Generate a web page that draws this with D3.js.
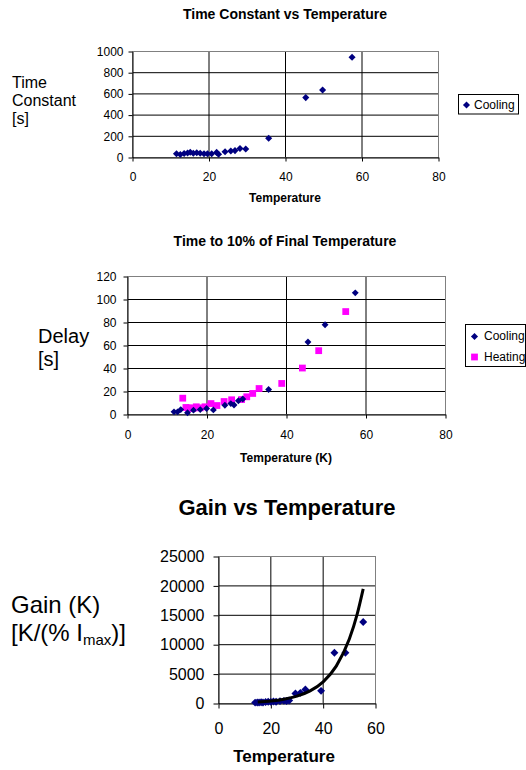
<!DOCTYPE html>
<html>
<head>
<meta charset="utf-8">
<script src="https://cdn.jsdelivr.net/npm/d3@7"></script>
<style>
  body { margin: 0; background: #fff; }
  svg { display: block; font-family: Arial, "Liberation Sans", sans-serif; }
</style>
</head>
<body>
<svg id="chart" width="526" height="770"></svg>
<script>
// chart 1 : time constant (cooling)
var tcTemp = [11.5, 12.5, 13.5, 14.4, 15.1, 15.9, 16.8, 17.7, 18.7, 19.6, 20.7, 22, 22.5, 24.2, 25.7, 26.8, 28.1, 29.6, 35.6, 45.3, 49.7, 57.4];
var tcCool = [35, 28, 38, 42, 50, 40, 45, 40, 35, 36, 35, 48, 30, 55, 62, 65, 85, 80, 182, 565, 637, 945];
var tcXTicks = [0, 20, 40, 60, 80];
var tcYTicks = [0, 200, 400, 600, 800, 1000];

// chart 2 : delay to 10% of final temperature
var dlCoolTemp = [11.7, 12.6, 13.4, 15.1, 16.6, 18.3, 19.9, 21.6, 24.5, 26, 26.8, 27.9, 29, 35.5, 45.4, 49.7, 57.3];
var dlCool = [2.3, 2.3, 4.3, 1.5, 3.8, 4.3, 5.2, 4, 8, 9.5, 8.3, 12, 13.5, 21.7, 63, 78, 105.8];
var dlHeatTemp = [13.9, 14.7, 15.3, 15.8, 16.5, 17.3, 18.3, 19.5, 21, 22.5, 24.3, 26.2, 28.7, 30, 31.5, 33.1, 38.8, 44, 48.1, 54.9];
var dlHeat = [14.2, 6.1, 5.5, 5.8, 5.2, 6.7, 5.8, 6.7, 9.5, 7.8, 11.3, 12.8, 13, 15.4, 18.3, 22.6, 27, 40.4, 55.5, 89.5];
var dlXTicks = [0, 20, 40, 60, 80];
var dlYTicks = [0, 20, 40, 60, 80, 100, 120];

// chart 3 : gain
var gnTemp = [14, 14.8, 15.5, 16.3, 17, 18, 19, 20, 21, 22, 23.5, 25, 26, 27, 29.4, 31.3, 33.2, 39.2, 44.3, 48.5, 55.3];
var gnCool = [150, 170, 160, 200, 180, 250, 300, 280, 330, 300, 400, 450, 420, 500, 1700, 1810, 2390, 2150, 8630, 8630, 13860];
var gnTrendTemp = [15, 20, 25, 30, 35, 40, 45, 50, 53, 55.3];
var gnTrend = [243, 419, 726, 1250, 2150, 3690, 6360, 10950, 15200, 19500];
var gnXTicks = [0, 20, 40, 60];
var gnYTicks = [0, 5000, 10000, 15000, 20000, 25000];

var svg = d3.select("#chart");
var navy = "#000080", magenta = "#ff00ff";

function zip(xs, ys) {
  return xs.map(function(v, i) { return [v, ys[i]]; });
}

// excel style plot area: black gridlines, grey frame, black axes
function panel(p) {
  var x = d3.scaleLinear().domain([p.xTicks[0], p.xTicks[p.xTicks.length - 1]]).range([p.left, p.right]);
  var y = d3.scaleLinear().domain([p.yTicks[0], p.yTicks[p.yTicks.length - 1]]).range([p.bottom, p.top]);
  var g = svg.append("g");
  var fmt = d3.format("d");

  g.selectAll(".hg").data(p.yTicks.slice(1, -1)).enter().append("line")
    .attr("x1", p.left).attr("x2", p.right)
    .attr("y1", function(d) { return y(d); }).attr("y2", function(d) { return y(d); })
    .attr("stroke", "#000");
  g.selectAll(".vg").data(p.xTicks.slice(1, -1)).enter().append("line")
    .attr("y1", p.top).attr("y2", p.bottom)
    .attr("x1", function(d) { return x(d); }).attr("x2", function(d) { return x(d); })
    .attr("stroke", "#000");
  g.append("rect")
    .attr("x", p.left).attr("y", p.top)
    .attr("width", p.right - p.left).attr("height", p.bottom - p.top)
    .attr("fill", "none").attr("stroke", "#808080");

  var ax = g.append("g").attr("transform", "translate(0," + p.bottom + ")")
    .call(d3.axisBottom(x).tickValues(p.xTicks).tickFormat(fmt)
      .tickSize(p.tick).tickSizeOuter(0).tickPadding(p.xPad));
  var ay = g.append("g").attr("transform", "translate(" + p.left + ",0)")
    .call(d3.axisLeft(y).tickValues(p.yTicks).tickFormat(fmt)
      .tickSize(p.tick).tickSizeOuter(0).tickPadding(p.yPad));
  [ax, ay].forEach(function(a) {
    a.attr("font-family", null).attr("font-size", p.font);
    a.selectAll("path, line").attr("stroke", "#000");
    a.selectAll("text").attr("fill", "#000");
  });
  return { g: g, x: x, y: y };
}

function diamonds(c, data, size) {
  c.g.append("g").selectAll("path").data(data).enter().append("path")
    .attr("d", d3.symbol(d3.symbolDiamond2, size))
    .attr("transform", function(d) { return "translate(" + c.x(d[0]) + "," + c.y(d[1]) + ")"; })
    .attr("fill", navy);
}

function squares(c, data, size) {
  c.g.append("g").selectAll("path").data(data).enter().append("path")
    .attr("d", d3.symbol(d3.symbolSquare, size))
    .attr("transform", function(d) { return "translate(" + c.x(d[0]) + "," + c.y(d[1]) + ")"; })
    .attr("fill", magenta);
}

function label(txt, x, y, size, bold, anchor) {
  return svg.append("text").attr("x", x).attr("y", y)
    .attr("font-size", size).attr("font-weight", bold ? "bold" : null)
    .attr("text-anchor", anchor || "start").attr("fill", "#000").text(txt);
}

// ---------- chart 1
var c1 = panel({ left: 132.5, right: 438.5, top: 51.5, bottom: 157.5,
  xTicks: tcXTicks, yTicks: tcYTicks, tick: 4, xPad: 11, yPad: 5, font: 12 });
diamonds(c1, zip(tcTemp, tcCool), 32);
label("Time Constant vs Temperature", 285, 19, 14, true, "middle");
label("Temperature", 285, 202, 12, true, "middle");
label("Time", 12, 88, 16);
label("Constant", 12, 106, 16);
label("[s]", 12, 124, 16);

svg.append("rect").attr("x", 458.5).attr("y", 94.5).attr("width", 60).attr("height", 19.5)
  .attr("fill", "#fff").attr("stroke", "#000");
svg.append("path").attr("d", d3.symbol(d3.symbolDiamond2, 32))
  .attr("transform", "translate(466.5,105)").attr("fill", navy);
label("Cooling", 474, 109, 12);

// ---------- chart 2
var c2 = panel({ left: 127.5, right: 445.5, top: 276.5, bottom: 414.5,
  xTicks: dlXTicks, yTicks: dlYTicks, tick: 4, xPad: 12, yPad: 7, font: 12 });
squares(c2, zip(dlHeatTemp, dlHeat), 46);
diamonds(c2, zip(dlCoolTemp, dlCool), 30);
label("Time to 10% of Final Temperature", 285, 246, 14, true, "middle");
label("Temperature (K)", 286, 462, 12, true, "middle");
label("Delay", 38, 343, 20);
label("[s]", 38, 366, 20);

svg.append("rect").attr("x", 465.5).attr("y", 324.5).attr("width", 60).attr("height", 42)
  .attr("fill", "#fff").attr("stroke", "#000");
svg.append("path").attr("d", d3.symbol(d3.symbolDiamond2, 32))
  .attr("transform", "translate(474.5,336.5)").attr("fill", navy);
svg.append("path").attr("d", d3.symbol(d3.symbolSquare, 46))
  .attr("transform", "translate(474.5,357)").attr("fill", magenta);
label("Cooling", 484, 339.5, 12);
label("Heating", 484, 360.5, 12);

// ---------- chart 3
var c3 = panel({ left: 218.5, right: 375.5, top: 556.5, bottom: 703.5,
  xTicks: gnXTicks, yTicks: gnYTicks, tick: 5, xPad: 14, yPad: 9, font: 16 });
diamonds(c3, zip(gnTemp, gnCool), 40);
c3.g.append("path")
  .datum(zip(gnTrendTemp, gnTrend))
  .attr("d", d3.line().x(function(d) { return c3.x(d[0]); }).y(function(d) { return c3.y(d[1]); })
    .curve(d3.curveMonotoneX))
  .attr("fill", "none").attr("stroke", "#000").attr("stroke-width", 3);
label("Gain vs Temperature", 287, 515, 22, true, "middle");
label("Temperature", 284, 762, 17, true, "middle");
label("Gain (K)", 11, 613, 24);
var l2 = label("[K/(% I", 11, 641, 24);
l2.append("tspan").attr("font-size", 15).attr("dy", 4).text("max");
l2.append("tspan").attr("dy", -4).text(")]");
</script>
</body>
</html>
